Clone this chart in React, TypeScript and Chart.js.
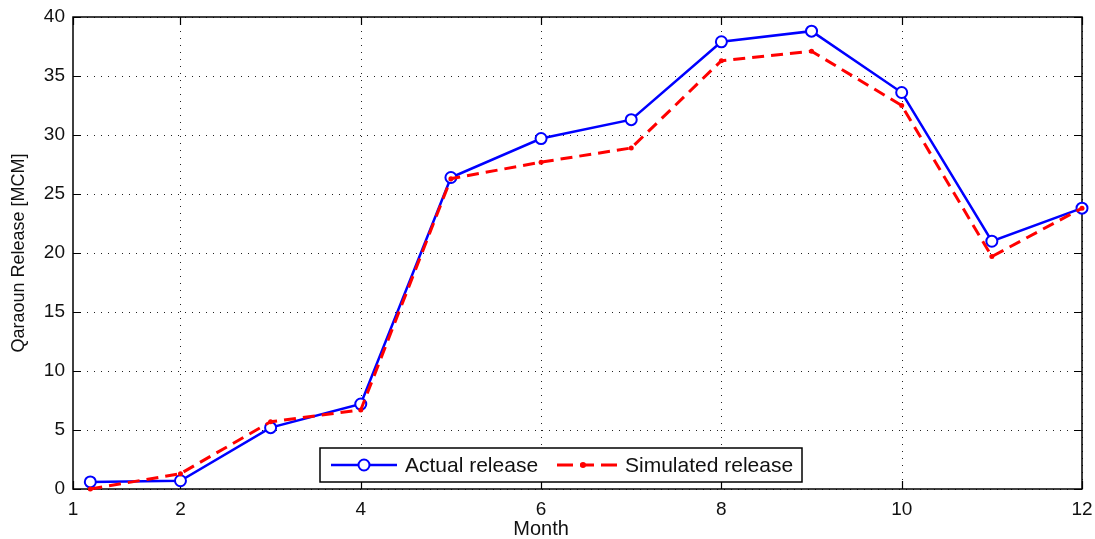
import React, { useEffect, useRef } from 'react';
import { Chart, registerables } from 'chart.js';

Chart.register(...registerables);

// ---- data ----
const months = [1, 2, 3, 4, 5, 6, 7, 8, 9, 10, 11, 12];
const actualRelease = [0.6, 0.7, 5.2, 7.2, 26.4, 29.7, 31.3, 37.9, 38.8, 33.6, 21.0, 23.8];
const simulatedRelease = [0.0, 1.3, 5.7, 6.7, 26.3, 27.7, 28.9, 36.3, 37.1, 32.5, 19.7, 23.8];
const seriesLabels = ['Actual release', 'Simulated release'];

const xMin = 0.808;
const xMax = 12;
const xTickValues = [0.808, 2, 4, 6, 8, 10, 12];
const xTickLabels = ['1', '2', '4', '6', '8', '10', '12'];
const xGridValues = [2, 4, 6, 8, 10, 12];
const yMin = 0;
const yMax = 40;
const yTickValues = [0, 5, 10, 15, 20, 25, 30, 35, 40];
const xTitle = 'Month';
const yTitle = 'Qaraoun Release [MCM]';

const FONT = '"Liberation Sans", Arial, Helvetica, sans-serif';
const BLUE = '#0000ff';
const RED = '#ff0000';

const matlabFrame = {
  id: 'matlabFrame',
  beforeDatasetsDraw(chart: any) {
    const { ctx, chartArea: a, scales } = chart;
    const x = scales.x;
    const y = scales.y;
    ctx.save();
    // dotted grid
    ctx.strokeStyle = '#222';
    ctx.lineWidth = 1;
    ctx.setLineDash([1, 6]);
    for (const v of xGridValues) {
      const px = Math.round(x.getPixelForValue(v)) + 0.5;
      ctx.beginPath();
      ctx.moveTo(px, a.top);
      ctx.lineTo(px, a.bottom);
      ctx.stroke();
    }
    for (const v of yTickValues) {
      const py = Math.round(y.getPixelForValue(v)) + 0.5;
      ctx.beginPath();
      ctx.moveTo(a.left, py);
      ctx.lineTo(a.right, py);
      ctx.stroke();
    }
    ctx.setLineDash([]);
    // box
    ctx.strokeStyle = '#000';
    ctx.lineWidth = 1.5;
    ctx.strokeRect(a.left, a.top, a.right - a.left, a.bottom - a.top);
    // inward ticks
    const tl = 8;
    ctx.lineWidth = 1.2;
    ctx.beginPath();
    for (const v of xTickValues) {
      const px = Math.round(x.getPixelForValue(v)) + 0.5;
      ctx.moveTo(px, a.bottom);
      ctx.lineTo(px, a.bottom - tl);
      ctx.moveTo(px, a.top);
      ctx.lineTo(px, a.top + tl);
    }
    for (const v of yTickValues) {
      const py = Math.round(y.getPixelForValue(v)) + 0.5;
      ctx.moveTo(a.left, py);
      ctx.lineTo(a.left + tl, py);
      ctx.moveTo(a.right, py);
      ctx.lineTo(a.right - tl, py);
    }
    ctx.stroke();
    ctx.restore();
  },
  afterDatasetsDraw(chart: any) {
    const { ctx, chartArea: a, scales } = chart;
    const x = scales.x;
    ctx.save();
    // axis titles
    ctx.fillStyle = '#111';
    ctx.textAlign = 'center';
    ctx.textBaseline = 'middle';
    ctx.font = `20px ${FONT}`;
    ctx.fillText(xTitle, x.getPixelForValue(6), a.bottom + 40);
    ctx.font = `18px ${FONT}`;
    ctx.save();
    ctx.translate(19, (a.top + a.bottom) / 2);
    ctx.rotate(-Math.PI / 2);
    ctx.fillText(yTitle, 0, 0);
    ctx.restore();

    // legend
    const lx = a.left + 247;
    const ly = a.bottom - 41;
    const lw = 482;
    const lh = 34;
    const cy = ly + lh / 2;
    ctx.fillStyle = '#fff';
    ctx.fillRect(lx, ly, lw, lh);
    ctx.strokeStyle = '#000';
    ctx.lineWidth = 1.5;
    ctx.strokeRect(lx, ly, lw, lh);

    // blue entry
    ctx.strokeStyle = BLUE;
    ctx.lineWidth = 2.5;
    ctx.beginPath();
    ctx.moveTo(lx + 11, cy);
    ctx.lineTo(lx + 77, cy);
    ctx.stroke();
    ctx.beginPath();
    ctx.arc(lx + 44, cy, 5.5, 0, Math.PI * 2);
    ctx.fillStyle = '#fff';
    ctx.fill();
    ctx.lineWidth = 2;
    ctx.stroke();
    ctx.fillStyle = '#111';
    ctx.font = `21px ${FONT}`;
    ctx.textAlign = 'left';
    ctx.textBaseline = 'middle';
    ctx.fillText(seriesLabels[0], lx + 85, cy + 1);

    // red entry
    ctx.strokeStyle = RED;
    ctx.lineWidth = 3;
    ctx.setLineDash([16, 7, 14, 7]);
    ctx.beginPath();
    ctx.moveTo(lx + 237, cy);
    ctx.lineTo(lx + 297, cy);
    ctx.stroke();
    ctx.setLineDash([]);
    ctx.fillStyle = RED;
    ctx.beginPath();
    ctx.arc(lx + 263, cy, 3, 0, Math.PI * 2);
    ctx.fill();
    ctx.fillStyle = '#111';
    ctx.fillText(seriesLabels[1], lx + 305, cy + 1);
    ctx.restore();
  },
};

export default function App() {
  const ref = useRef<HTMLCanvasElement>(null);

  useEffect(() => {
    document.body.style.margin = '0';
    const canvas = ref.current;
    if (!canvas) return;
    const chart = new Chart(canvas, {
      type: 'line',
      data: {
        datasets: [
          {
            label: seriesLabels[0],
            data: months.map((m, i) => ({ x: m, y: actualRelease[i] })),
            borderColor: BLUE,
            borderWidth: 2.5,
            pointRadius: 5.5,
            pointBorderWidth: 2,
            pointBorderColor: BLUE,
            pointBackgroundColor: '#fff',
            tension: 0,
            clip: false,
            order: 2,
          },
          {
            label: seriesLabels[1],
            data: months.map((m, i) => ({ x: m, y: simulatedRelease[i] })),
            borderColor: RED,
            borderWidth: 3,
            borderDash: [12, 7],
            pointRadius: 2.5,
            pointBorderWidth: 0,
            pointBackgroundColor: RED,
            tension: 0,
            clip: false,
            order: 1,
          },
        ],
      },
      options: {
        animation: false,
        responsive: false,
        devicePixelRatio: 1,
        layout: { padding: { top: 17, right: 13, left: 0, bottom: 0 } },
        plugins: {
          legend: { display: false },
          tooltip: { enabled: false },
        },
        scales: {
          x: {
            type: 'linear',
            min: xMin,
            max: xMax,
            grid: { display: false, drawTicks: false },
            border: { display: false },
            ticks: {
              color: '#111',
              font: { family: FONT, size: 19 },
              padding: 9,
              autoSkip: false,
              maxRotation: 0,
              callback: (_v: any, i: number) => xTickLabels[i],
            },
            afterBuildTicks: (s: any) => {
              s.ticks = xTickValues.map((v) => ({ value: v }));
            },
            afterFit: (s: any) => {
              s.height = 50;
              s.paddingLeft = 0;
              s.paddingRight = 0;
            },
          },
          y: {
            type: 'linear',
            min: yMin,
            max: yMax,
            grid: { display: false, drawTicks: false },
            border: { display: false },
            ticks: {
              color: '#111',
              font: { family: FONT, size: 19 },
              padding: 8,
              stepSize: 5,
            },
            afterBuildTicks: (s: any) => {
              s.ticks = yTickValues.map((v) => ({ value: v }));
            },
            afterFit: (s: any) => {
              s.width = 73;
              s.paddingTop = 0;
              s.paddingBottom = 0;
            },
          },
        },
      },
      plugins: [matlabFrame],
    });
    return () => chart.destroy();
  }, []);

  return (
    <div style={{ position: 'fixed', left: 0, top: 0, width: 1095, height: 539, background: '#fff' }}>
      <canvas ref={ref} width={1095} height={539} style={{ display: 'block', width: 1095, height: 539 }} />
    </div>
  );
}
